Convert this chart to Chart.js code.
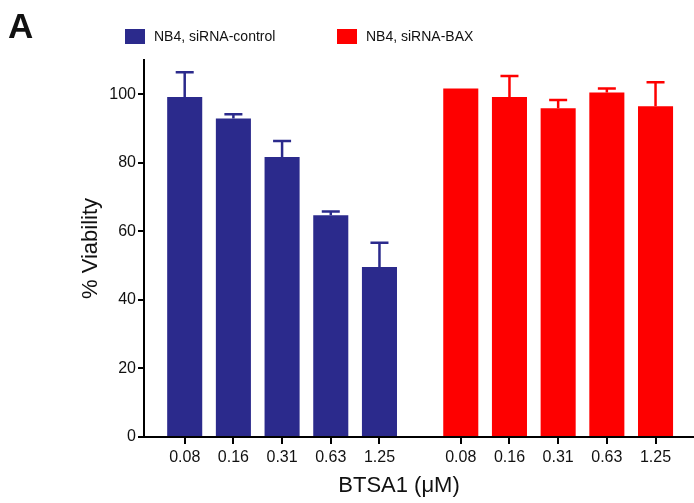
<!DOCTYPE html>
<html>
<head>
<meta charset="utf-8">
<script src="https://cdn.jsdelivr.net/npm/chart.js@4.4.0/dist/chart.umd.min.js"></script>
<style>
  html, body { margin: 0; padding: 0; background: #fff; }
  #wrap { width: 694px; height: 503px; }
</style>
</head>
<body>
<div id="wrap"><canvas id="viabilityChart" width="694" height="503"></canvas></div>
<script>
// BTSA1 doses (uM), shared by both groups
const doses = ['0.08', '0.16', '0.31', '0.63', '1.25'];

const controlLabel = 'NB4, siRNA-control';
const controlViability = [99.2, 92.9, 81.7, 64.7, 49.6];
const controlSem = [7.2, 1.3, 4.7, 1.1, 7.1];

const baxLabel = 'NB4, siRNA-BAX';
const baxViability = [101.7, 99.2, 95.9, 100.5, 96.5];
const baxSem = [0, 6.1, 2.4, 1.2, 7.0];

const yTicks = [0, 20, 40, 60, 80, 100];

const BLUE = '#2b2a8c';
const RED = '#fe0000';
const FONT = 'Liberation Sans, Arial, sans-serif';
const GROUP_OFFSET = 5.67; // second group sits after a wider gap

const controlX = doses.map((d, i) => i);
const baxX = doses.map((d, i) => i + GROUP_OFFSET);
const tickPositions = [...controlX, ...baxX];
const tickLabels = [...doses, ...doses];

// upward-only SEM bars with caps
const errorBars = {
  id: 'errorBars',
  afterDatasetsDraw(chart) {
    const { ctx } = chart;
    const yScale = chart.scales.y;
    chart.data.datasets.forEach((ds, di) => {
      const meta = chart.getDatasetMeta(di);
      meta.data.forEach((bar, i) => {
        const err = ds.errors[i];
        if (!err) return;
        const yTop = yScale.getPixelForValue(ds.data[i].y + err);
        ctx.save();
        ctx.strokeStyle = ds.backgroundColor;
        ctx.lineWidth = 2.5;
        ctx.beginPath();
        ctx.moveTo(bar.x, bar.y);
        ctx.lineTo(bar.x, yTop);
        ctx.moveTo(bar.x - 9, yTop);
        ctx.lineTo(bar.x + 9, yTop);
        ctx.stroke();
        ctx.restore();
      });
    });
  }
};

// panel letter, legend row, x tick marks and x title
const decorations = {
  id: 'decorations',
  afterDraw(chart) {
    const { ctx } = chart;
    const xScale = chart.scales.x;
    const axisY = chart.chartArea.bottom;
    ctx.save();

    ctx.strokeStyle = '#000';
    ctx.lineWidth = 2;
    ctx.beginPath();
    tickPositions.forEach(v => {
      const px = Math.round(xScale.getPixelForValue(v));
      ctx.moveTo(px, axisY);
      ctx.lineTo(px, axisY + 7);
    });
    ctx.stroke();

    ctx.fillStyle = '#111';
    ctx.font = 'bold 35px ' + FONT;
    ctx.textBaseline = 'alphabetic';
    ctx.fillText('A', 8, 38);

    const items = [
      { x: 125, color: BLUE, text: controlLabel },
      { x: 337, color: RED, text: baxLabel }
    ];
    ctx.font = '14px ' + FONT;
    ctx.textBaseline = 'middle';
    items.forEach(it => {
      ctx.fillStyle = it.color;
      ctx.fillRect(it.x, 29, 20, 15);
      ctx.fillStyle = '#111';
      ctx.fillText(it.text, it.x + 29, 37);
    });

    ctx.font = '22px ' + FONT;
    ctx.textAlign = 'center';
    ctx.fillText('BTSA1 (\u03bcM)', 399, 486);
    ctx.restore();
  }
};

new Chart(document.getElementById('viabilityChart'), {
  type: 'bar',
  data: {
    datasets: [
      {
        label: controlLabel,
        data: controlViability.map((v, i) => ({ x: controlX[i], y: v })),
        errors: controlSem,
        backgroundColor: BLUE
      },
      {
        label: baxLabel,
        data: baxViability.map((v, i) => ({ x: baxX[i], y: v })),
        errors: baxSem,
        backgroundColor: RED
      }
    ]
  },
  options: {
    responsive: false,
    animation: false,
    grouped: false,
    barPercentage: 0.72,
    categoryPercentage: 1,
    layout: { padding: { top: 60, left: 0, right: 0, bottom: 0 } },
    plugins: { legend: { display: false }, tooltip: { enabled: false } },
    scales: {
      x: {
        type: 'linear',
        offset: false,
        min: -0.836,
        max: 10.46,
        afterBuildTicks: scale => { scale.ticks = tickPositions.map(v => ({ value: v })); },
        afterFit: scale => { scale.height = 66; },
        ticks: {
          autoSkip: false,
          maxRotation: 0,
          padding: 5,
          color: '#111',
          font: { family: FONT, size: 16 },
          callback: (v, i) => tickLabels[i]
        },
        grid: { offset: false, drawOnChartArea: false, drawTicks: true, tickLength: 6, color: '#000', lineWidth: 2 },
        border: { display: true, color: '#000', width: 2 }
      },
      y: {
        min: 0,
        max: 110,
        afterBuildTicks: scale => { scale.ticks = yTicks.map(v => ({ value: v })); },
        afterFit: scale => { scale.width = 144; },
        ticks: {
          padding: 2,
          color: '#111',
          font: { family: FONT, size: 16 }
        },
        grid: { drawOnChartArea: false, drawTicks: true, tickLength: 6, color: '#000', lineWidth: 2 },
        border: { display: true, color: '#000', width: 2 },
        title: {
          display: true,
          text: '% Viability',
          color: '#111',
          font: { family: FONT, size: 22 },
          padding: { top: 78, bottom: 0 }
        }
      }
    }
  },
  plugins: [errorBars, decorations]
});
</script>
</body>
</html>
